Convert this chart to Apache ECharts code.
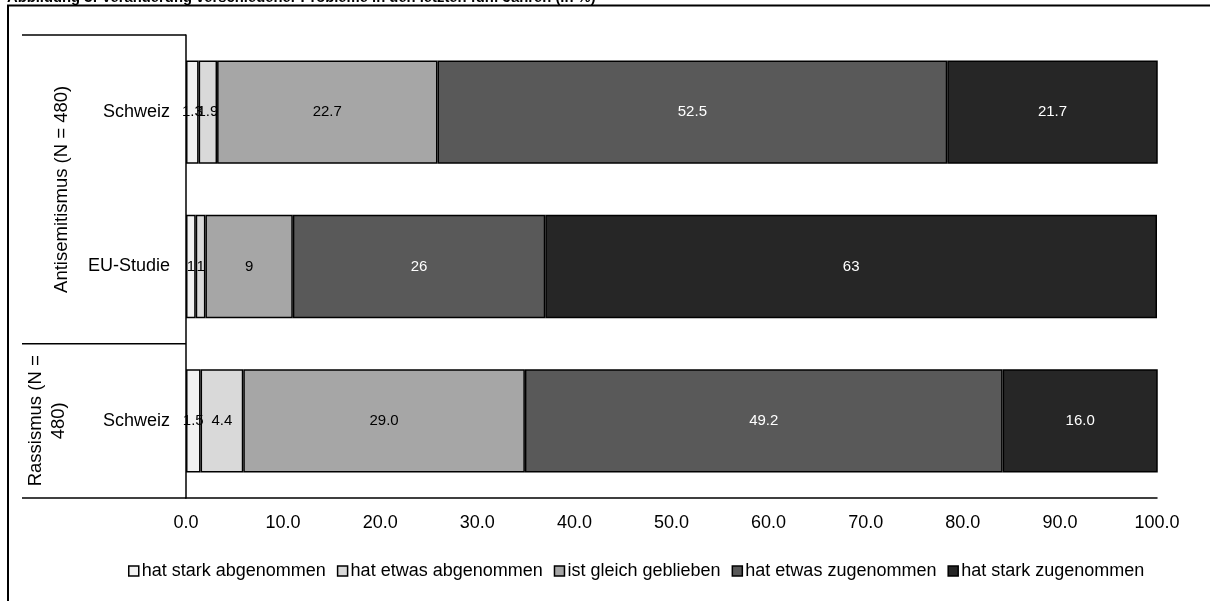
<!DOCTYPE html>
<html>
<head>
<meta charset="utf-8">
<script src="https://cdn.jsdelivr.net/npm/echarts@6/dist/echarts.min.js"></script>
<style>
  html, body { margin: 0; padding: 0; background: #ffffff; }
  #chart { width: 1210px; height: 601px; }
</style>
</head>
<body>
<div id="chart"></div>
<script>
// Rows of the chart (top to bottom) and the groups they belong to
const categories = ['Schweiz', 'EU-Studie', 'Schweiz'];
const groupLabels = ['Antisemitismus (N = 480)', 'Rassismus (N =\n480)'];
const groupSizes = [2, 1];

// Answer categories, in stacking order
const seriesNames = [
  'hat stark abgenommen',
  'hat etwas abgenommen',
  'ist gleich geblieben',
  'hat etwas zugenommen',
  'hat stark zugenommen'
];

// Shares in percent, one value per row
const starkAbgenommen = [1.3, 1, 1.5];
const etwasAbgenommen = [1.9, 1, 4.4];
const gleichGeblieben = [22.7, 9, 29.0];
const etwasZugenommen = [52.5, 26, 49.2];
const starkZugenommen = [21.7, 63, 16.0];

// Decimal places printed in each row's labels
const labelDecimals = [1, 0, 1];

// Value axis
const xMin = 0;
const xMax = 100;
const xStep = 10;

const titleText = 'Abbildung 3: Veränderung verschiedener Probleme in den letzten fünf Jahren (in %)';

const seriesValues = [starkAbgenommen, etwasAbgenommen, gleichGeblieben, etwasZugenommen, starkZugenommen];
const fills = ['#f2f2f2', '#d9d9d9', '#a6a6a6', '#595959', '#262626'];
const labelColors = ['#000000', '#000000', '#000000', '#ffffff', '#ffffff'];

const FONT = 'Arial, "Liberation Sans", Helvetica, sans-serif';
const W = 1210, H = 601;
const grid = { left: 186, right: 53, top: 35, bottom: 103 };
const gridH = H - grid.top - grid.bottom;
const gridBottomY = H - grid.bottom;
const tableLeft = 22;
const groupLabelX = [62, 47];

const chart = echarts.init(document.getElementById('chart'), null, { renderer: 'canvas' });

// Group labels and separator lines to the left of the row labels
const graphics = [];
const totalRows = categories.length;
let rowStart = 0;
groupSizes.forEach((n, gi) => {
  const yTop = grid.top + gridH * rowStart / totalRows;
  const yBot = grid.top + gridH * (rowStart + n) / totalRows;
  graphics.push({
    type: 'line',
    shape: { x1: tableLeft, y1: yTop, x2: grid.left, y2: yTop },
    style: { stroke: '#000', lineWidth: 1.5 },
    silent: true
  });
  graphics.push({
    type: 'text',
    x: groupLabelX[gi],
    y: (yTop + yBot) / 2,
    rotation: Math.PI / 2,
    style: {
      text: groupLabels[gi],
      font: '18.5px ' + FONT,
      fill: '#000',
      textAlign: 'center',
      textVerticalAlign: 'middle',
      lineHeight: 23
    },
    silent: true
  });
  rowStart += n;
});
// Bottom rule that continues the value axis to the left edge of the table
graphics.push({
  type: 'line',
  shape: { x1: tableLeft, y1: gridBottomY, x2: grid.left, y2: gridBottomY },
  style: { stroke: '#000', lineWidth: 1.5 },
  silent: true
});
// Outer frame: rule under the heading and left edge
graphics.push({
  type: 'line',
  shape: { x1: 7, y1: 5.5, x2: W, y2: 5.5 },
  style: { stroke: '#000', lineWidth: 2 },
  silent: true
});
graphics.push({
  type: 'line',
  shape: { x1: 8, y1: 5, x2: 8, y2: H },
  style: { stroke: '#000', lineWidth: 2 },
  silent: true
});
// Heading
graphics.push({
  type: 'text',
  x: 7,
  y: 5,
  style: {
    text: titleText,
    font: 'bold 14.8px ' + FONT,
    fill: '#000',
    textAlign: 'left',
    textVerticalAlign: 'bottom'
  },
  silent: true
});

const series = seriesNames.map((name, si) => ({
  name: name,
  type: 'bar',
  stack: 'total',
  barCategoryGap: '33%',
  data: seriesValues[si],
  itemStyle: { color: fills[si], borderColor: '#000', borderWidth: 1.5 },
  label: {
    show: true,
    position: 'inside',
    color: labelColors[si],
    fontSize: 15,
    fontFamily: FONT,
    formatter: p => p.value.toFixed(labelDecimals[p.dataIndex])
  },
  emphasis: { disabled: true },
  animation: false
}));

chart.setOption({
  animation: false,
  backgroundColor: '#ffffff',
  grid: { left: grid.left, right: grid.right, top: grid.top, bottom: grid.bottom, containLabel: false },
  legend: {
    data: seriesNames,
    left: 128,
    top: 562,
    padding: 0,
    icon: 'rect',
    itemWidth: 10,
    itemHeight: 10,
    itemGap: 11,
    textStyle: { fontSize: 18, fontFamily: FONT, color: '#000', padding: [0, 0, 0, -2] },
    itemStyle: { borderColor: '#000', borderWidth: 1.5 }
  },
  xAxis: {
    type: 'value',
    min: xMin,
    max: xMax,
    interval: xStep,
    axisLine: { show: true, lineStyle: { color: '#000', width: 1.5 } },
    axisTick: { show: false },
    splitLine: { show: false },
    axisLabel: {
      color: '#000',
      fontSize: 18,
      fontFamily: FONT,
      margin: 16,
      formatter: v => v.toFixed(1)
    }
  },
  yAxis: {
    type: 'category',
    inverse: true,
    data: categories,
    axisLine: { show: true, lineStyle: { color: '#000', width: 1.5 } },
    axisTick: { show: false },
    axisLabel: {
      color: '#000',
      fontSize: 18,
      fontFamily: FONT,
      margin: 16,
      formatter: (v, i) => categories[i]
    }
  },
  graphic: graphics,
  series: series
});
</script>
</body>
</html>
